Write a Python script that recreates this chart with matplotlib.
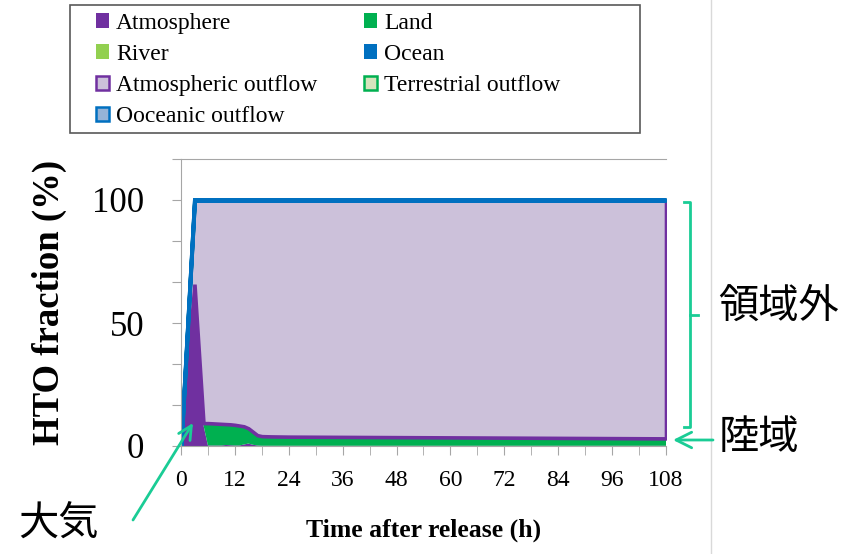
import numpy as np
import matplotlib.pyplot as plt
from matplotlib.patches import Patch, Rectangle
from matplotlib.lines import Line2D

plt.rcParams["font.family"] = ["Liberation Serif", "DejaVu Serif"]

# time after release (h)
hours = [0, 1, 2, 3, 4, 5, 6, 7, 8, 9, 10, 11, 12, 13, 14, 15, 16, 17, 18, 20,
         24, 36, 48, 60, 72, 84, 96, 108]
# HTO fraction (%) per compartment
atmosphere = [0, 22, 44, 65, 36, 8.5, 0.2, 0.2, 0.2, 0.2, 0.4, 0.3, 0.2, 0.2, 0.6, 1.0,
              0.5, 0.2, 0.1, 0.1, 0.1, 0.1, 0.1, 0.1, 0.1, 0.1, 0.1, 0.1]
land = [0, 0.2, 0.4, 0.8, 1.5, 0.8, 9.1, 9.0, 8.9, 8.8, 8.5, 8.5, 8.4, 8.1, 7.4, 6.2,
        5.3, 4.2, 3.9, 3.8, 3.7, 3.6, 3.5, 3.4, 3.3, 3.2, 3.1, 3.0]
river = [0] * 28
ocean = [0] * 28
atm_outflow = [0, 11.1, 22.3, 34.2, 62.5, 90.7, 90.7, 90.8, 90.9, 91.0, 91.1, 91.2, 91.4,
               91.7, 92.0, 92.8, 94.2, 95.6, 96.0, 96.1, 96.2, 96.3, 96.4, 96.5, 96.6,
               96.7, 96.8, 96.9]
terr_outflow = [0] * 28
ocean_outflow = [0] * 28

labels = ["Atmosphere", "Land", "River", "Ocean", "Atmospheric outflow",
          "Terrestrial outflow", "Ooceanic outflow"]
faces = ["#7030A0", "#00B050", "#92D050", "#0070C0", "#CCC1DA", "#D7E4BD", "#95B3D7"]
edges = [None, None, None, None, "#7030A0", "#00B050", "#0070C0"]
widths = [0, 0, 0, 0, 2.6, 2.6, 2.9]

W, H = 850, 554
fig = plt.figure(figsize=(8.5, 5.54), dpi=100)


def px(x, y):
    return (x / W, 1 - y / H)


ax = fig.add_axes([181 / W, 1 - 446 / H, (666 - 181) / W, (446 - 159) / H])

series = [atmosphere, land, river, ocean, atm_outflow, terr_outflow, ocean_outflow]
t = np.array(hours, dtype=float)
base = np.zeros(len(t))
for vals, fc, ec, lw in zip(series, faces, edges, widths):
    top = base + np.array(vals, dtype=float)
    if ec is None:
        ax.fill_between(t, base, top, facecolor=fc, linewidth=0)
    else:
        ax.fill_between(t, base, top, facecolor=fc, edgecolor=ec, linewidth=lw,
                        joinstyle="miter")
    base = top

ax.set_xlim(0, 108)
ax.set_ylim(0, 700 / 6)
ax.set_xticks(np.arange(0, 109, 12))
ax.set_xticks(np.arange(0, 109, 6), minor=True)
yt = [i * 100 / 6 for i in range(8)]
ax.set_yticks(yt)
ax.set_yticklabels(["0", "", "", "50", "", "", "100", ""])
for s in ["left", "bottom", "top"]:
    ax.spines[s].set_color("#A6A6A6")
ax.spines["right"].set_visible(False)
ax.tick_params(axis="both", which="both", color="#A6A6A6", length=6.5, direction="out")
ax.tick_params(axis="x", which="major", labelsize=17, pad=11)
ax.tick_params(axis="y", labelsize=25, pad=20)

ax.set_ylabel("HTO fraction (%)", fontsize=26.5, fontweight="bold")
ax.yaxis.set_label_coords(-(181 - 67) / (666 - 181), 0.5)
ax.set_xlabel("Time after release (h)", fontsize=18.5, fontweight="bold")
ax.xaxis.set_label_coords(0.5, -(519 - 446) / (446 - 159))

# legend (frame drawn separately)
handles = [Patch(facecolor=f, edgecolor=(e if e else f), linewidth=(1.8 if e else 0))
           for f, e in zip(faces, edges)]
order = [0, 2, 4, 6, 1, 3, 5]
fig.legend([handles[i] for i in order], [labels[i] for i in order], ncol=2,
           loc="upper left", bbox_to_anchor=px(84, 1), frameon=False, borderpad=0,
           prop={"size": 17}, handlelength=0.55, handleheight=0.55,
           handletextpad=0.3, labelspacing=0.43, columnspacing=2.0)
fig.patches.append(Rectangle(px(70, 133), 570 / W, 128 / H, transform=fig.transFigure,
                             fill=False, edgecolor="#595959", linewidth=1.2))

# separator line
fig.add_artist(Line2D([711 / W, 711 / W], [0, 1], color="#D9D9D9", linewidth=1))

# annotations
teal = "#1ACC95"
bx = [684, 690, 690, 684]
by = [202, 202, 427, 427]
fig.add_artist(Line2D([x / W for x in bx], [1 - y / H for y in by], color=teal, linewidth=2))
fig.add_artist(Line2D([690 / W, 698 / W], [1 - 315 / H] * 2, color=teal, linewidth=2))

jp = ["Noto Sans CJK JP", "DejaVu Sans"]
fig.text(*px(779, 306), "領域外", fontsize=29, family=jp, ha="center", va="center")
fig.text(*px(759, 438), "陸域", fontsize=29, family=jp, ha="center", va="center")
fig.text(*px(59, 524), "大気", fontsize=29, family=jp, ha="center", va="center")

fig.add_artist(plt.Annotation("", xy=px(673, 440), xytext=px(713, 440),
                              xycoords="figure fraction", textcoords="figure fraction",
                              arrowprops=dict(arrowstyle="->", color=teal, lw=2,
                                              mutation_scale=28, shrinkA=0, shrinkB=0)))
fig.add_artist(plt.Annotation("", xy=px(193, 423), xytext=px(133, 520),
                              xycoords="figure fraction", textcoords="figure fraction",
                              arrowprops=dict(arrowstyle="->", color=teal, lw=2,
                                              mutation_scale=24, shrinkA=0, shrinkB=0)))

fig.savefig("out.png", dpi=100)
